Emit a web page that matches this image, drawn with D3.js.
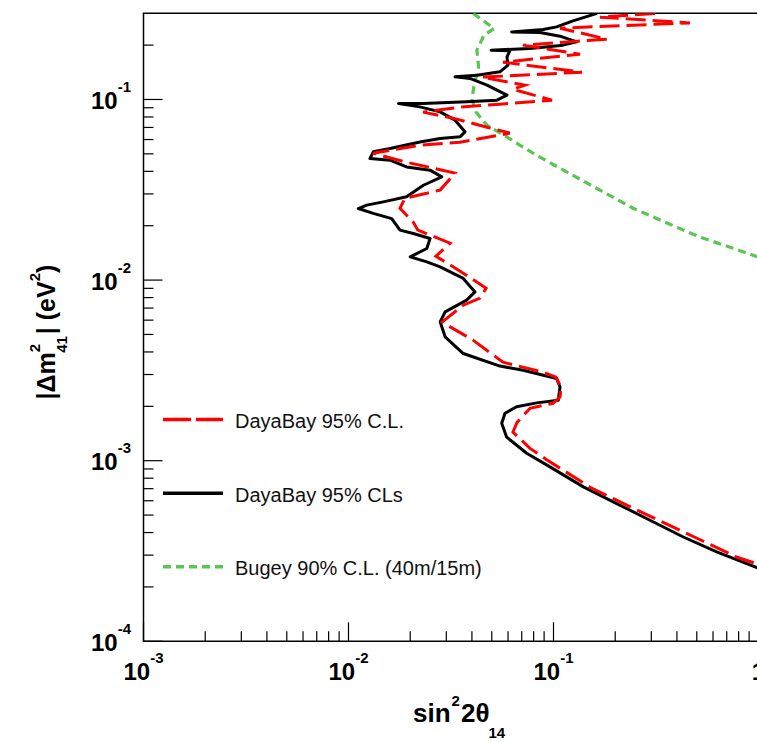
<!DOCTYPE html>
<html>
<head>
<meta charset="utf-8">
<script src="https://cdn.jsdelivr.net/npm/d3@7"></script>
<style>
  body { margin: 0; background: #fff; }
  svg { display: block; font-family: "Liberation Sans", Arial, sans-serif; }
</style>
</head>
<body>
<svg id="chart" width="757" height="742"></svg>
<script>
// [sin^2 2theta14, |dm41^2|]
const dayaBayCL = [
  [0.3128,0.2995],[0.1685,0.2856],[0.4634,0.2655],[0.1076,0.2482],[0.1824,0.2158],[0.0710,0.1999],
  [0.1347,0.1781],[0.0567,0.1608],[0.1377,0.1416],[0.0448,0.1329],[0.0726,0.1200],[0.0634,0.1140],
  [0.0983,0.0991],[0.0548,0.0942],[0.0350,0.0907],[0.0231,0.0851],[0.0323,0.0788],[0.0474,0.0702],
  [0.0613,0.0651],[0.0350,0.0580],[0.0223,0.0558],[0.01317,0.0504],[0.0192,0.0449],[0.0331,0.0391],
  [0.0280,0.0315],[0.01886,0.0284],[0.01783,0.0250],[0.0207,0.0209],[0.0218,0.0189],[0.0313,0.0160],
  [0.0267,0.01356],[0.0363,0.01092],[0.0469,0.00902],[0.0438,0.00794],[0.0363,0.00726],[0.0286,0.00585],
  [0.0405,0.00465],[0.0567,0.00351],[0.0889,0.00309],[0.1028,0.00290],[0.1088,0.00255],[0.1076,0.00225],
  [0.0995,0.00208],[0.0768,0.00195],[0.0664,0.00163],[0.0634,0.00144],[0.0768,0.00117],[0.0930,0.00101],
  [0.1507,0.000713],[0.2555,0.000532],[0.501,0.000372],[0.785,0.000292],[1.0,0.000267]
];
const dayaBayCLs = [
  [0.163,0.2995],[0.1245,0.2723],[0.1036,0.2523],[0.0889,0.2441],[0.0625,0.2367],[0.0859,0.2350],
  [0.1076,0.2241],[0.1298,0.2085],[0.1113,0.1999],[0.0768,0.1916],[0.0496,0.1875],[0.0613,0.1863],
  [0.0593,0.1721],[0.0600,0.1548],[0.0548,0.1422],[0.0423,0.1363],[0.0331,0.1334],[0.0391,0.1307],
  [0.0474,0.1200],[0.0593,0.1056],[0.0530,0.0991],[0.0378,0.0970],[0.0231,0.0950],[0.01754,0.0950],
  [0.0223,0.0910],[0.0280,0.0854],[0.0331,0.0768],[0.0370,0.0662],[0.0350,0.0621],[0.0280,0.0608],
  [0.0223,0.0582],[0.01594,0.0535],[0.01321,0.0513],[0.01273,0.0471],[0.01594,0.0461],[0.0192,0.0423],
  [0.0250,0.0406],[0.0285,0.0373],[0.0232,0.0335],[0.0192,0.0289],[0.01478,0.0271],[0.01227,0.0260],
  [0.01116,0.0249],[0.01321,0.0234],[0.01625,0.0219],[0.01783,0.0189],[0.0207,0.0181],[0.0250,0.0170],
  [0.0241,0.01496],[0.0200,0.01344],[0.0241,0.01261],[0.0280,0.01183],[0.0363,0.01021],[0.0414,0.00860],
  [0.0377,0.00774],[0.0296,0.00667],[0.0280,0.00587],[0.0296,0.00485],[0.0363,0.00392],[0.0548,0.00334],
  [0.0712,0.00317],[0.0892,0.00297],[0.1036,0.00285],[0.1076,0.00256],[0.1055,0.00216],[0.0828,0.00209],
  [0.0661,0.00199],[0.0580,0.00183],[0.0559,0.00161],[0.0591,0.00135],[0.0740,0.00110],[0.0961,0.000924],
  [0.1398,0.000716],[0.2034,0.000579],[0.2956,0.000468],[0.4297,0.000378],[0.6253,0.000313],[1.0,0.000254]
];
const bugey = [
  [0.0406,0.2995],[0.0513,0.2472],[0.0458,0.2270],[0.0423,0.1875],[0.0431,0.1515],[0.0409,0.1185],
  [0.0400,0.1000],[0.0419,0.0851],[0.0474,0.0720],[0.0593,0.0619],[0.0794,0.0504],[0.1164,0.0396],
  [0.1685,0.0315],[0.2443,0.0250],[0.358,0.0207],[0.518,0.0173],[0.751,0.01502],[1.0,0.01339]
];
const xMajor = [1e-3, 1e-2, 1e-1, 1];
const xMajorExp = ["-3", "-2", "-1", null];
const yMajor = [1e-4, 1e-3, 1e-2, 1e-1];
const yMajorExp = ["-4", "-3", "-2", "-1"];
const legendNames = ["DayaBay 95% C.L.", "DayaBay 95% CLs", "Bugey 90% C.L. (40m/15m)"];

const svg = d3.select("#chart");
const pLeft = 143.5, pRight = 758.5, pTop = 13.3, pBottom = 641.3;

const x = d3.scaleLog().domain([1e-3, 1]).range([pLeft, pRight]);
const y = d3.scaleLog().domain([1e-4, 0.3]).range([pBottom, pTop]);

const minorX = [], minorY = [];
[1e-3, 1e-2, 1e-1].forEach(d => d3.range(2, 10).forEach(k => minorX.push(d * k)));
[1e-4, 1e-3, 1e-2, 1e-1].forEach(d => d3.range(2, 10).forEach(k => { if (d * k <= 0.3) minorY.push(d * k); }));

svg.append("defs").append("clipPath").attr("id", "clip")
  .append("rect").attr("x", pLeft).attr("y", pTop).attr("width", pRight - pLeft).attr("height", pBottom - pTop);

// frame: left, bottom, top
svg.append("path")
  .attr("d", `M${pRight},${pTop}H${pLeft}V${pBottom}H${pRight}`)
  .attr("fill", "none").attr("stroke", "#000").attr("stroke-width", 1.5);

const ax = svg.append("g").attr("stroke", "#000").attr("stroke-width", 1.2);
ax.selectAll(".xt").data(minorX.map(v => [v, 10]).concat(xMajor.map(v => [v, 19])))
  .enter().append("line")
  .attr("x1", d => x(d[0])).attr("x2", d => x(d[0]))
  .attr("y1", pBottom).attr("y2", d => pBottom - d[1]);
ax.selectAll(".yt").data(minorY.map(v => [v, 10]).concat(yMajor.map(v => [v, 19])))
  .enter().append("line")
  .attr("y1", d => y(d[0])).attr("y2", d => y(d[0]))
  .attr("x1", pLeft).attr("x2", d => pLeft + d[1]);

// tick labels
xMajor.forEach((v, i) => {
  const t = svg.append("text").attr("x", x(v)).attr("y", 680)
    .attr("text-anchor", "middle").attr("font-weight", "bold").attr("font-size", 24);
  t.append("tspan").text(xMajorExp[i] ? "10" : "1");
  if (xMajorExp[i]) t.append("tspan").attr("dy", -17).attr("font-size", 15).text(xMajorExp[i]);
});
yMajor.forEach((v, i) => {
  const t = svg.append("text").attr("x", 131).attr("y", y(v) + 9.5)
    .attr("text-anchor", "end").attr("font-weight", "bold").attr("font-size", 24);
  t.append("tspan").text("10");
  t.append("tspan").attr("dy", -17).attr("font-size", 15).text(yMajorExp[i]);
});

// x axis title: sin^2 2theta_14
const xt = svg.append("text").attr("x", 413).attr("y", 722)
  .attr("font-weight", "bold").attr("font-size", 26);
xt.append("tspan").text("sin");
xt.append("tspan").attr("dy", -16).attr("dx", 1).attr("font-size", 15).text("2");
xt.append("tspan").attr("dy", 16).attr("dx", 1).text("2θ");
xt.append("tspan").attr("dy", 16).attr("dx", -1).attr("font-size", 15).text("14");

// y axis title
const yt = svg.append("text").attr("transform", "translate(55,332) rotate(-90)")
  .attr("text-anchor", "middle").attr("font-weight", "bold").attr("font-size", 25);
yt.append("tspan").text("|Δm");
yt.append("tspan").attr("dy", -15).attr("font-size", 15).text("2");
yt.append("tspan").attr("dy", 27).attr("dx", -9).attr("font-size", 15).text("41");
yt.append("tspan").attr("dy", -12).attr("dx", 2).text("| (eV");
yt.append("tspan").attr("dy", -15).attr("font-size", 15).text("2");
yt.append("tspan").attr("dy", 15).text(")");

// curves
const line = d3.line().x(d => x(d[0])).y(d => y(d[1]));
const curves = svg.append("g").attr("clip-path", "url(#clip)").attr("fill", "none");
curves.append("path").datum(bugey).attr("d", line)
  .attr("stroke", "#5ac652").attr("stroke-width", 3.2).attr("stroke-dasharray", "8,5");
curves.append("path").datum(dayaBayCLs).attr("d", line)
  .attr("stroke", "#000").attr("stroke-width", 3).attr("stroke-linejoin", "round");
curves.append("path").datum(dayaBayCL).attr("d", line)
  .attr("stroke", "#ff0000").attr("stroke-width", 3).attr("stroke-dasharray", "20,7");

// legend
const legStyles = [
  { c: "#ff0000", dash: "28,5", y: 419.5 },
  { c: "#000", dash: null, y: 493.3 },
  { c: "#5ac652", dash: "8,5", y: 566.7 }
];
legendNames.forEach((name, i) => {
  const s = legStyles[i];
  svg.append("line").attr("x1", 163).attr("x2", 223).attr("y1", s.y).attr("y2", s.y)
    .attr("stroke", s.c).attr("stroke-width", 3.5).attr("stroke-dasharray", s.dash);
  svg.append("text").attr("x", 235).attr("y", s.y + 8.5).attr("font-size", 20)
    .attr("fill", "#111").text(name);
});
</script>
</body>
</html>
